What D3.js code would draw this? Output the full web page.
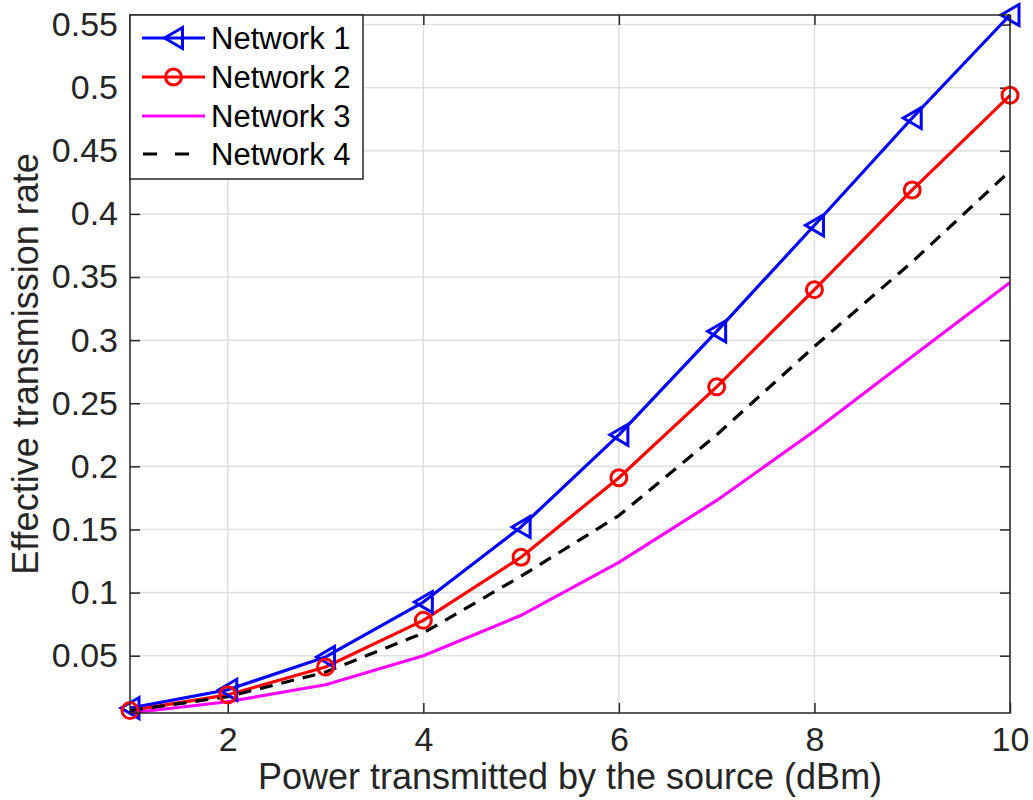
<!DOCTYPE html>
<html>
<head>
<meta charset="utf-8">
<script src="https://cdn.jsdelivr.net/npm/d3@7"></script>
<style>
  body { margin: 0; background: #fff; }
  svg { display: block; }
  text { font-family: "Liberation Sans", Arial, Helvetica, sans-serif; }
</style>
</head>
<body>
<svg id="chart" width="1033" height="800"></svg>
<script>
// ---- data ----
const powerDbm = [1, 2, 3, 4, 5, 6, 7, 8, 9, 10];
const network1 = [0.0085, 0.023, 0.049, 0.0925, 0.152, 0.225, 0.307, 0.391, 0.476, 0.5576];
const network2 = [0.0065, 0.019, 0.041, 0.078, 0.128, 0.191, 0.263, 0.340, 0.419, 0.494];
const network3 = [0.0046, 0.0135, 0.027, 0.050, 0.082, 0.124, 0.173, 0.228, 0.287, 0.3456];
const network4 = [0.0065, 0.0175, 0.037, 0.068, 0.113, 0.161, 0.225, 0.295, 0.362, 0.434];
const seriesNames = ["Network 1", "Network 2", "Network 3", "Network 4"];
const xTicks = [2, 4, 6, 8, 10];
const yTicks = [0.05, 0.1, 0.15, 0.2, 0.25, 0.3, 0.35, 0.4, 0.45, 0.5, 0.55];
const xLabel = "Power transmitted by the source (dBm)";
const yLabel = "Effective transmission rate";

const series = [
  { name: seriesNames[0], values: network1, color: "#0000ff", marker: "triangle", dash: null },
  { name: seriesNames[1], values: network2, color: "#ff0000", marker: "circle", dash: null },
  { name: seriesNames[2], values: network3, color: "#ff00ff", marker: null, dash: null },
  { name: seriesNames[3], values: network4, color: "#000000", marker: null, dash: "13,9" }
];

// ---- layout ----
const L = 130, R = 1010, T = 15, B = 713;
const svg = d3.select("#chart");
const axisColor = "#262626";

const allVals = [].concat(network1, network2, network3, network4);
const x = d3.scaleLinear().domain(d3.extent(powerDbm)).range([L, R]);
const y = d3.scaleLinear().domain(d3.extent(allVals)).range([B, T]);

// grid
const grid = svg.append("g");
grid.selectAll("line.gx").data(xTicks).join("line")
  .attr("x1", d => x(d)).attr("x2", d => x(d)).attr("y1", T).attr("y2", B)
  .attr("stroke", "#dfdfdf").attr("stroke-width", 1.5);
grid.selectAll("line.gy").data(yTicks).join("line")
  .attr("x1", L).attr("x2", R).attr("y1", d => y(d)).attr("y2", d => y(d))
  .attr("stroke", "#dfdfdf").attr("stroke-width", 1.5);

// axes via d3 axis (inward ticks)
const fmt = d => String(+d.toFixed(2));
const tickSize = 10;
const xAxisB = svg.append("g").attr("transform", `translate(0,${B})`)
  .call(d3.axisBottom(x).tickValues(xTicks).tickSize(-tickSize).tickSizeOuter(0).tickPadding(14).tickFormat(fmt));
const xAxisT = svg.append("g").attr("transform", `translate(0,${T})`)
  .call(d3.axisTop(x).tickValues(xTicks).tickSize(-tickSize).tickSizeOuter(0).tickFormat(""));
const yAxisL = svg.append("g").attr("transform", `translate(${L},0)`)
  .call(d3.axisLeft(y).tickValues(yTicks).tickSize(-tickSize).tickSizeOuter(0).tickPadding(12).tickFormat(fmt));
const yAxisR = svg.append("g").attr("transform", `translate(${R},0)`)
  .call(d3.axisRight(y).tickValues(yTicks).tickSize(-tickSize).tickSizeOuter(0).tickFormat(""));

[xAxisB, xAxisT, yAxisL, yAxisR].forEach(g => {
  g.select(".domain").remove();
  g.selectAll(".tick line").attr("stroke", axisColor).attr("stroke-width", 1.5);
  g.selectAll(".tick text").attr("fill", axisColor).style("font-size", "34px")
    .style("font-family", "'Liberation Sans', Arial, sans-serif");
});
xAxisB.selectAll(".tick text").attr("dy", "0.71em");

// series lines
const line = d3.line().x((d, i) => x(powerDbm[i])).y(d => y(d));
const plot = svg.append("g");
series.forEach(s => {
  plot.append("path").datum(s.values)
    .attr("d", line).attr("fill", "none")
    .attr("stroke", s.color).attr("stroke-width", 3.2)
    .attr("stroke-linejoin", "round")
    .attr("stroke-dasharray", s.dash);
});

// markers
function drawMarker(g, type, cx, cy, color) {
  if (type === "circle") {
    g.append("circle").attr("cx", cx).attr("cy", cy).attr("r", 8)
      .attr("fill", "none").attr("stroke", color).attr("stroke-width", 3);
  } else if (type === "triangle") {
    const w = 9, h = 10.5;
    g.append("path")
      .attr("d", `M${cx - w},${cy} L${cx + w},${cy - h} L${cx + w},${cy + h} Z`)
      .attr("fill", "none").attr("stroke", color).attr("stroke-width", 3)
      .attr("stroke-linejoin", "miter");
  }
}
series.forEach(s => {
  if (!s.marker) return;
  s.values.forEach((v, i) => drawMarker(plot, s.marker, x(powerDbm[i]), y(v), s.color));
});

// axes box
svg.append("rect").attr("x", L).attr("y", T).attr("width", R - L).attr("height", B - T)
  .attr("fill", "none").attr("stroke", axisColor).attr("stroke-width", 1.5);

// legend
const lg = svg.append("g");
const lgX = L, lgY = T, lgW = 233, lgH = 164;
lg.append("rect").attr("x", lgX).attr("y", lgY).attr("width", lgW).attr("height", lgH)
  .attr("fill", "#fff").attr("stroke", "#262626").attr("stroke-width", 1.5);
const rowY = [38, 77, 116, 154];
series.forEach((s, i) => {
  const ry = rowY[i];
  lg.append("line").attr("x1", 142).attr("x2", 205).attr("y1", ry).attr("y2", ry)
    .attr("stroke", s.color).attr("stroke-width", 3.2)
    .attr("stroke-dasharray", s.dash ? "14,18" : null)
    .attr("stroke-dashoffset", s.dash ? -1 : null);
  if (s.marker) drawMarker(lg, s.marker, 173.5, ry, s.color);
  lg.append("text").attr("x", 211).attr("y", ry).attr("dy", "0.36em")
    .style("font-size", "31px").attr("fill", "#000").text(s.name);
});

// axis labels
svg.append("text").attr("x", (L + R) / 2).attr("y", 789)
  .attr("text-anchor", "middle").style("font-size", "36px").attr("fill", axisColor)
  .text(xLabel);
svg.append("text").attr("transform", `translate(38,${(T + B) / 2}) rotate(-90)`)
  .attr("text-anchor", "middle").style("font-size", "36px").attr("fill", axisColor)
  .text(yLabel);
</script>
</body>
</html>
